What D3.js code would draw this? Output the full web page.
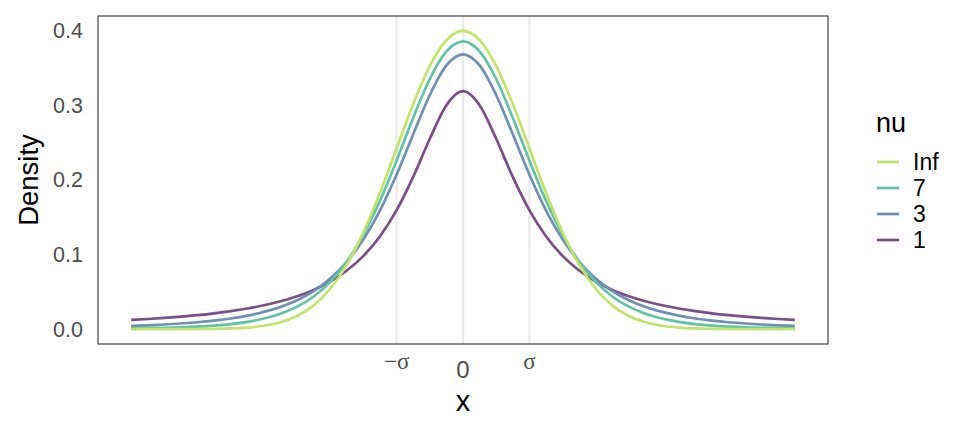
<!DOCTYPE html>
<html>
<head>
<meta charset="utf-8">
<script src="https://cdn.jsdelivr.net/npm/d3@7"></script>
<style>
  html, body { margin: 0; padding: 0; background: #ffffff; }
  svg { display: block; }
</style>
</head>
<body>
<svg id="chart" width="972" height="432"></svg>
<script>
// ---- data ----
const xValues = [-5,-4.75,-4.5,-4.25,-4,-3.75,-3.5,-3.25,-3,-2.75,-2.5,-2.25,-2,-1.75,-1.5,-1.25,-1,-0.75,-0.5,-0.25,0,
                 0.25,0.5,0.75,1,1.25,1.5,1.75,2,2.25,2.5,2.75,3,3.25,3.5,3.75,4,4.25,4.5,4.75,5];
const densInf = [0.00000,0.00001,0.00002,0.00005,0.00013,0.00035,0.00087,0.00203,0.00443,0.00909,0.01753,0.03174,0.05399,0.08628,0.12952,0.18265,0.24197,0.30114,0.35207,0.38667,0.39894,
                 0.38667,0.35207,0.30114,0.24197,0.18265,0.12952,0.08628,0.05399,0.03174,0.01753,0.00909,0.00443,0.00203,0.00087,0.00035,0.00013,0.00005,0.00002,0.00001,0.00000];
const dens7   = [0.00088,0.00121,0.00168,0.00234,0.00330,0.00470,0.00673,0.00972,0.01410,0.02055,0.02999,0.04366,0.06313,0.09016,0.12626,0.17196,0.22567,0.28261,0.33457,0.37154,0.38499,
                 0.37154,0.33457,0.28261,0.22567,0.17196,0.12626,0.09016,0.06313,0.04366,0.02999,0.02055,0.01410,0.00972,0.00673,0.00470,0.00330,0.00234,0.00168,0.00121,0.00088];
const dens3   = [0.00422,0.00506,0.00612,0.00746,0.00916,0.01136,0.01422,0.01798,0.02297,0.02965,0.03866,0.05089,0.06751,0.09000,0.12002,0.15891,0.20675,0.26064,0.31318,0.35270,0.36755,
                 0.35270,0.31318,0.26064,0.20675,0.15891,0.12002,0.09000,0.06751,0.05089,0.03866,0.02965,0.02297,0.01798,0.01422,0.01136,0.00916,0.00746,0.00612,0.00506,0.00422];
const dens1   = [0.01224,0.01353,0.01499,0.01670,0.01872,0.02113,0.02402,0.02754,0.03183,0.03716,0.04390,0.05240,0.06366,0.07840,0.09794,0.12421,0.15915,0.20372,0.25465,0.29959,0.31831,
                 0.29959,0.25465,0.20372,0.15915,0.12421,0.09794,0.07840,0.06366,0.05240,0.04390,0.03716,0.03183,0.02754,0.02402,0.02113,0.01872,0.01670,0.01499,0.01353,0.01224];

const seriesNames = ["Inf", "7", "3", "1"];
const seriesColors = ["#c3e36a", "#62c2a6", "#6f90b4", "#7c4d88"];
const yTicks = [0, 0.1, 0.2, 0.3, 0.4];
const yTickLabels = ["0.0", "0.1", "0.2", "0.3", "0.4"];
const xBreaks = [-1, 0, 1];
const xTickLabels = ["\u2212\u03c3", "0", "\u03c3"];

// ---- layout ----
const svg = d3.select("#chart");
const panel = { left: 98, right: 828, top: 16, bottom: 344 };

const x = d3.scaleLinear().domain([-5.5, 5.5]).range([panel.left, panel.right]);
const yMax = 0.39894;
const yPad = yMax * 0.05;
const y = d3.scaleLinear().domain([-yPad, yMax + yPad]).range([panel.bottom, panel.top]);

// vertical grid lines
svg.append("g").selectAll("line").data(xBreaks).join("line")
  .attr("x1", d => x(d)).attr("x2", d => x(d))
  .attr("y1", panel.top).attr("y2", panel.bottom)
  .attr("stroke", "#ebebeb").attr("stroke-width", 2.4);

// curves (drawn nu=1 first so Inf ends on top)
const seriesData = [densInf, dens7, dens3, dens1];
const line = d3.line()
  .x((d, i) => x(xValues[i]))
  .y(d => y(d))
  .curve(d3.curveMonotoneX);

const order = [3, 2, 1, 0];
svg.append("g").selectAll("path").data(order).join("path")
  .attr("d", k => line(seriesData[k]))
  .attr("fill", "none")
  .attr("stroke", k => seriesColors[k])
  .attr("stroke-width", 2.7)
  .attr("stroke-linejoin", "round")
  .attr("stroke-linecap", "butt");

// panel border
svg.append("rect")
  .attr("x", panel.left).attr("y", panel.top)
  .attr("width", panel.right - panel.left).attr("height", panel.bottom - panel.top)
  .attr("fill", "none").attr("stroke", "#333333").attr("stroke-width", 1.1);

// y axis labels
svg.append("g").selectAll("text").data(yTicks).join("text")
  .attr("x", 83)
  .attr("y", d => y(d))
  .attr("dy", "0.36em")
  .attr("text-anchor", "end")
  .attr("font-family", "Liberation Sans, Arial, sans-serif")
  .attr("font-size", 21.5)
  .attr("fill", "#4d4d4d")
  .text((d, i) => yTickLabels[i]);

// x axis labels
svg.append("g").selectAll("text").data(xBreaks).join("text")
  .attr("x", d => x(d))
  .attr("y", (d, i) => i === 1 ? 377.5 : 369)
  .attr("text-anchor", "middle")
  .attr("font-family", (d, i) => i === 1 ? "Liberation Sans, Arial, sans-serif" : "Liberation Serif, 'Times New Roman', serif")
  .attr("font-size", (d, i) => i === 1 ? 24 : 23)
  .attr("fill", "#4d4d4d")
  .text((d, i) => xTickLabels[i]);

// axis titles
svg.append("text")
  .attr("x", x(0)).attr("y", 411)
  .attr("text-anchor", "middle")
  .attr("font-family", "Liberation Sans, Arial, sans-serif")
  .attr("font-size", 29)
  .attr("fill", "#000")
  .text("x");

svg.append("text")
  .attr("transform", `translate(38, ${(panel.top + panel.bottom) / 2}) rotate(-90)`)
  .attr("text-anchor", "middle")
  .attr("font-family", "Liberation Sans, Arial, sans-serif")
  .attr("font-size", 27.5)
  .attr("fill", "#000")
  .text("Density");

// legend
const legend = svg.append("g");
legend.append("text")
  .attr("x", 876).attr("y", 132)
  .attr("font-family", "Liberation Sans, Arial, sans-serif")
  .attr("font-size", 27)
  .attr("fill", "#000")
  .text("nu");

const keyY = d3.scalePoint().domain(seriesNames).range([162, 240]);
const items = legend.selectAll("g.item").data(seriesNames).join("g").attr("class", "item");
items.append("line")
  .attr("x1", 877).attr("x2", 899)
  .attr("y1", d => keyY(d)).attr("y2", d => keyY(d))
  .attr("stroke", (d, i) => seriesColors[i])
  .attr("stroke-width", 2.7);
items.append("text")
  .attr("x", 913)
  .attr("y", d => keyY(d))
  .attr("dy", "0.36em")
  .attr("font-family", "Liberation Sans, Arial, sans-serif")
  .attr("font-size", 23)
  .attr("fill", "#000")
  .text(d => d);
</script>
</body>
</html>
